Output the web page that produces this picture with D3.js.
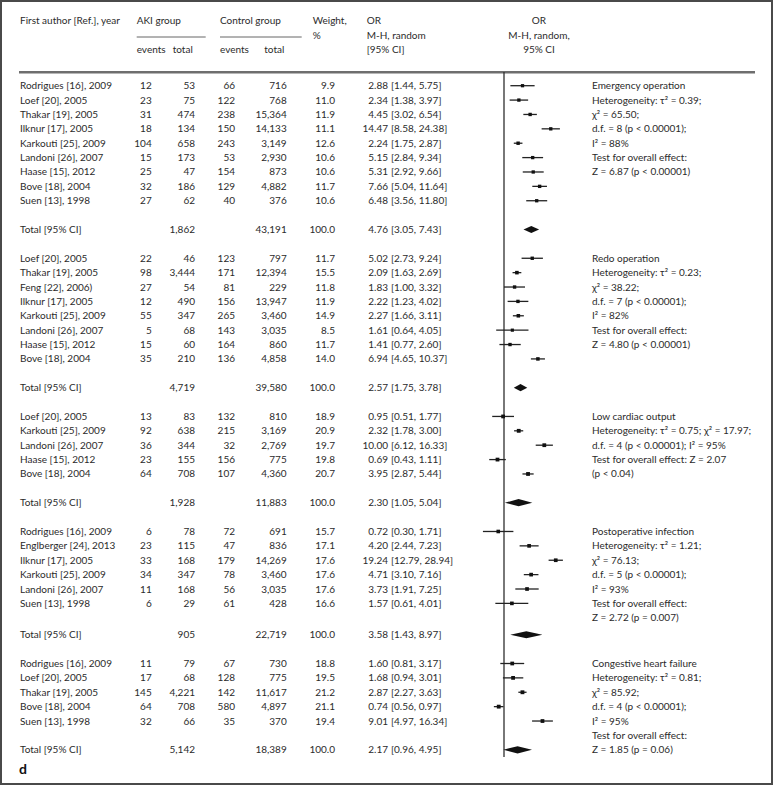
<!DOCTYPE html>
<html>
<head>
<meta charset="utf-8">
<script src="https://cdn.jsdelivr.net/npm/d3@7"></script>
<style>
  body { margin: 0; background: #fff; }
  text { font-family: Lato, "Open Sans", sans-serif; font-size: 10px; fill: #2b2b2b; }
</style>
</head>
<body>
<script>
// study rows: name, AKI events, AKI total, control events, control total, weight %, OR, lower, upper
var emergencyRows = [
  ['Rodrigues [16], 2009', 12, 53, 66, 716, 9.9, 2.88, 1.44, 5.75],
  ['Loef [20], 2005', 23, 75, 122, 768, 11.0, 2.34, 1.38, 3.97],
  ['Thakar [19], 2005', 31, 474, 238, 15364, 11.9, 4.45, 3.02, 6.54],
  ['Ilknur [17], 2005', 18, 134, 150, 14133, 11.1, 14.47, 8.58, 24.38],
  ['Karkouti [25], 2009', 104, 658, 243, 3149, 12.6, 2.24, 1.75, 2.87],
  ['Landoni [26], 2007', 15, 173, 53, 2930, 10.6, 5.15, 2.84, 9.34],
  ['Haase [15], 2012', 25, 47, 154, 873, 10.6, 5.31, 2.92, 9.66],
  ['Bove [18], 2004', 32, 186, 129, 4882, 11.7, 7.66, 5.04, 11.64],
  ['Suen [13], 1998', 27, 62, 40, 376, 10.6, 6.48, 3.56, 11.80]
];
var emergencyTotal = [1862, 43191, 100.0, 4.76, 3.05, 7.43];
var emergencyNotes = ['Emergency operation', 'Heterogeneity: τ² = 0.39;', 'χ² = 65.50;',
  'd.f. = 8 (p < 0.00001);', 'I² = 88%', 'Test for overall effect:', 'Z = 6.87 (p < 0.00001)'];

var redoRows = [
  ['Loef [20], 2005', 22, 46, 123, 797, 11.7, 5.02, 2.73, 9.24],
  ['Thakar [19], 2005', 98, 3444, 171, 12394, 15.5, 2.09, 1.63, 2.69],
  ['Feng [22], 2006)', 27, 54, 81, 229, 11.8, 1.83, 1.00, 3.32],
  ['Ilknur [17], 2005', 12, 490, 156, 13947, 11.9, 2.22, 1.23, 4.02],
  ['Karkouti [25], 2009', 55, 347, 265, 3460, 14.9, 2.27, 1.66, 3.11],
  ['Landoni [26], 2007', 5, 68, 143, 3035, 8.5, 1.61, 0.64, 4.05],
  ['Haase [15], 2012', 15, 60, 164, 860, 11.7, 1.41, 0.77, 2.60],
  ['Bove [18], 2004', 35, 210, 136, 4858, 14.0, 6.94, 4.65, 10.37]
];
var redoTotal = [4719, 39580, 100.0, 2.57, 1.75, 3.78];
var redoNotes = ['Redo operation', 'Heterogeneity: τ² = 0.23;', 'χ² = 38.22;',
  'd.f. = 7 (p < 0.00001);', 'I² = 82%', 'Test for overall effect:', 'Z = 4.80 (p < 0.00001)'];

var cardiacRows = [
  ['Loef [20], 2005', 13, 83, 132, 810, 18.9, 0.95, 0.51, 1.77],
  ['Karkouti [25], 2009', 92, 638, 215, 3169, 20.9, 2.32, 1.78, 3.00],
  ['Landoni [26], 2007', 36, 344, 32, 2769, 19.7, 10.00, 6.12, 16.33],
  ['Haase [15], 2012', 23, 155, 156, 775, 19.8, 0.69, 0.43, 1.11],
  ['Bove [18], 2004', 64, 708, 107, 4360, 20.7, 3.95, 2.87, 5.44]
];
var cardiacTotal = [1928, 11883, 100.0, 2.30, 1.05, 5.04];
var cardiacNotes = ['Low cardiac output', 'Heterogeneity: τ² = 0.75; χ² = 17.97;',
  'd.f. = 4 (p < 0.00001); I² = 95%', 'Test for overall effect: Z = 2.07', '(p < 0.04)'];

var infectionRows = [
  ['Rodrigues [16], 2009', 6, 78, 72, 691, 15.7, 0.72, 0.30, 1.71],
  ['Englberger [24], 2013', 23, 115, 47, 836, 17.1, 4.20, 2.44, 7.23],
  ['Ilknur [17], 2005', 33, 168, 179, 14269, 17.6, 19.24, 12.79, 28.94],
  ['Karkouti [25], 2009', 34, 347, 78, 3460, 17.6, 4.71, 3.10, 7.16],
  ['Landoni [26], 2007', 11, 168, 56, 3035, 17.6, 3.73, 1.91, 7.25],
  ['Suen [13], 1998', 6, 29, 61, 428, 16.6, 1.57, 0.61, 4.01]
];
var infectionTotal = [905, 22719, 100.0, 3.58, 1.43, 8.97];
var infectionNotes = ['Postoperative infection', 'Heterogeneity: τ² = 1.21;', 'χ² = 76.13;',
  'd.f. = 5 (p < 0.00001);', 'I² = 93%', 'Test for overall effect:', 'Z = 2.72 (p = 0.007)'];

var heartRows = [
  ['Rodrigues [16], 2009', 11, 79, 67, 730, 18.8, 1.60, 0.81, 3.17],
  ['Loef [20], 2005', 17, 68, 128, 775, 19.5, 1.68, 0.94, 3.01],
  ['Thakar [19], 2005', 145, 4221, 142, 11617, 21.2, 2.87, 2.27, 3.63],
  ['Bove [18], 2004', 64, 708, 580, 4897, 21.1, 0.74, 0.56, 0.97],
  ['Suen [13], 1998', 32, 66, 35, 370, 19.4, 9.01, 4.97, 16.34]
];
var heartTotal = [5142, 18389, 100.0, 2.17, 0.96, 4.95];
var heartNotes = ['Congestive heart failure', 'Heterogeneity: τ² = 0.81;', 'χ² = 85.92;',
  'd.f. = 4 (p < 0.00001);', 'I² = 95%', 'Test for overall effect:', 'Z = 1.85 (p = 0.06)'];

var headerTop = ['First author [Ref.], year', 'AKI group', 'Control group', 'Weight,', 'OR'];
var headerSub = ['events', 'total', 'events', 'total'];
var orHeader = ['M-H, random', '[95% CI]'];
var plotHeader = ['OR', 'M-H, random,', '95% CI'];
var totalLabel = 'Total [95% CI]';

var width = 774, height = 786;

var groups = [
  {rows: emergencyRows, total: emergencyTotal, notes: emergencyNotes},
  {rows: redoRows, total: redoTotal, notes: redoNotes},
  {rows: cardiacRows, total: cardiacTotal, notes: cardiacNotes},
  {rows: infectionRows, total: infectionTotal, notes: infectionNotes},
  {rows: heartRows, total: heartTotal, notes: heartNotes}
];

var svg = d3.select('body').append('svg')
  .attr('width', width)
  .attr('height', height);

svg.append('rect')
  .attr('x', 1).attr('y', 1)
  .attr('width', 771).attr('height', 783)
  .attr('fill', 'none')
  .attr('stroke', '#4a4a4a')
  .attr('stroke-width', 2);

// column positions
var col = {study: 20, e1: 151.7, n1: 195, e2: 235, n2: 286.7, w: 335, est: 388, ci: 391, note: 592};

var x = d3.scaleLog().domain([0.01, 100]).range([423.4, 584.6]);
var yBase = d3.scaleLinear().domain([0, 46]).range([85.7, 85.7 + 46 * 14.38]);
function y(i){ return yBase(i) + (i >= 38 ? 2.6 : 0); }

var fmtN = d3.format(','), fmtW = d3.format('.1f'), fmtOR = d3.format('.2f');

// lay out rows
var studies = [], totals = [], notes = [];
var idx = 0;
groups.forEach(function(g){
  g.rows.forEach(function(r, j){ studies.push({r: r, i: idx + j}); });
  g.notes.forEach(function(n, j){ notes.push({t: n, i: idx + j}); });
  var ti = idx + g.rows.length + 1;
  totals.push({t: g.total, i: ti});
  idx = ti + 2;
});

// header
var head = svg.append('g');
function htext(s, xx, yy, anchor){
  head.append('text').attr('x', xx).attr('y', yy).attr('dy', '0.35em')
    .attr('text-anchor', anchor || 'start').text(s);
}
htext(headerTop[0], 20, 20);
htext(headerTop[1], 136.7, 20);
htext(headerTop[2], 220, 20);
htext(headerTop[3], 312.7, 20);
htext('%', 312.7, 35);
htext(headerTop[4], 366.7, 20);
htext(orHeader[0], 366.7, 35);
htext(orHeader[1], 366.7, 49);
htext(headerSub[0], 136.7, 49);
htext(headerSub[1], 172.7, 49);
htext(headerSub[2], 220, 49);
htext(headerSub[3], 264.3, 49);
plotHeader.forEach(function(s, k){ htext(s, 539, [20, 35, 49][k], 'middle'); });

head.append('line').attr('x1', 136.7).attr('x2', 205.7).attr('y1', 37).attr('y2', 37)
  .attr('stroke', '#555').attr('stroke-width', 0.9);
head.append('line').attr('x1', 220).attr('x2', 301.7).attr('y1', 37).attr('y2', 37)
  .attr('stroke', '#555').attr('stroke-width', 0.9);
head.append('line').attr('x1', 19).attr('x2', 755).attr('y1', 72.3).attr('y2', 72.3)
  .attr('stroke', '#6e6e6e').attr('stroke-width', 2.4);

// null line
svg.append('line')
  .attr('x1', x(1)).attr('x2', x(1))
  .attr('y1', 72).attr('y2', 757)
  .attr('stroke', '#2f2f2f').attr('stroke-width', 1.3);

// study text rows
var row = svg.selectAll('.study')
  .data(studies)
  .enter()
  .append('g')
  .attr('class', 'study')
  .attr('transform', function(d){ return 'translate(0,' + y(d.i) + ')'; });

function cell(sel, xx, anchor, fn){
  sel.append('text').attr('x', xx).attr('dy', '0.35em')
    .attr('text-anchor', anchor).text(fn);
}
cell(row, col.study, 'start', function(d){ return d.r[0]; });
cell(row, col.e1, 'end', function(d){ return fmtN(d.r[1]); });
cell(row, col.n1, 'end', function(d){ return fmtN(d.r[2]); });
cell(row, col.e2, 'end', function(d){ return fmtN(d.r[3]); });
cell(row, col.n2, 'end', function(d){ return fmtN(d.r[4]); });
cell(row, col.w, 'end', function(d){ return fmtW(d.r[5]); });
cell(row, col.est, 'end', function(d){ return fmtOR(d.r[6]); });
cell(row, col.ci, 'start', function(d){ return '[' + fmtOR(d.r[7]) + ', ' + fmtOR(d.r[8]) + ']'; });

// CI lines and squares
row.append('line')
  .attr('x1', function(d){ return x(d.r[7]); })
  .attr('x2', function(d){ return x(d.r[8]); })
  .attr('stroke', '#222')
  .attr('stroke-width', 1.3);
row.append('rect')
  .attr('x', function(d){ return x(d.r[6]) - (2 + Math.sqrt(d.r[5]) * 0.4) / 2; })
  .attr('y', function(d){ return -(2 + Math.sqrt(d.r[5]) * 0.4) / 2; })
  .attr('width', function(d){ return 2 + Math.sqrt(d.r[5]) * 0.4; })
  .attr('height', function(d){ return 2 + Math.sqrt(d.r[5]) * 0.4; })
  .attr('fill', '#111');

// totals
var tot = svg.selectAll('.total')
  .data(totals)
  .enter()
  .append('g')
  .attr('class', 'total')
  .attr('transform', function(d){ return 'translate(0,' + y(d.i) + ')'; });

cell(tot, col.study, 'start', totalLabel);
cell(tot, col.n1, 'end', function(d){ return fmtN(d.t[0]); });
cell(tot, col.n2, 'end', function(d){ return fmtN(d.t[1]); });
cell(tot, col.w, 'end', function(d){ return fmtW(d.t[2]); });
cell(tot, col.est, 'end', function(d){ return fmtOR(d.t[3]); });
cell(tot, col.ci, 'start', function(d){ return '[' + fmtOR(d.t[4]) + ', ' + fmtOR(d.t[5]) + ']'; });

tot.append('path')
  .attr('d', function(d){
    var h = 3.6;
    return 'M' + x(d.t[4]) + ',0L' + x(d.t[3]) + ',' + (-h) + 'L' + x(d.t[5]) + ',0L' + x(d.t[3]) + ',' + h + 'Z';
  })
  .attr('fill', '#111');

// heterogeneity notes
svg.selectAll('.note')
  .data(notes)
  .enter()
  .append('text')
  .attr('class', 'note')
  .attr('x', col.note)
  .attr('y', function(d){ return y(d.i); })
  .attr('dy', '0.35em')
  .text(function(d){ return d.t; });

svg.append('text')
  .attr('x', 19).attr('y', 774)
  .style('font-size', '14px')
  .style('font-weight', 'bold')
  .style('fill', '#111')
  .text('d');
</script>
</body>
</html>
